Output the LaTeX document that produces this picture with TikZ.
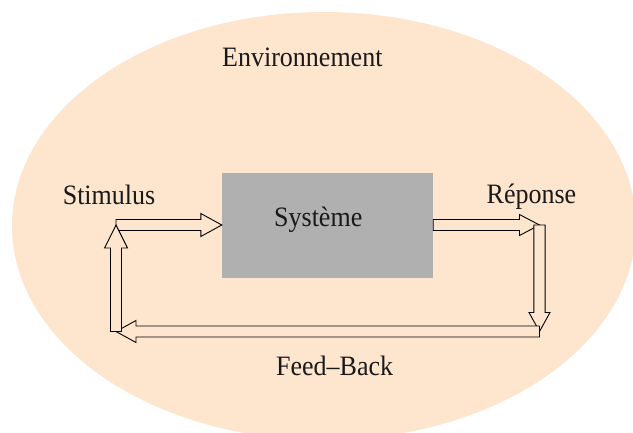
\documentclass[tikz,border=0pt]{standalone}
\usepackage{fontspec}
\setmainfont{Liberation Serif}
\usetikzlibrary{calc}
\definecolor{peach}{RGB}{253,229,206}
\definecolor{sysgray}{RGB}{176,176,176}
\tikzset{
  barrow/.style={draw=black, line width=0.9pt, fill=peach, line join=miter},
  lbl/.style={anchor=base west, inner sep=0pt, text=black!90,
    font=\fontsize{26}{30}\selectfont},
  sysbox/.style={rectangle, fill=sysgray, draw=none, minimum width=211pt, minimum height=105pt, inner sep=0pt}
}
\newcommand\blockarrow[5]{%
  \coordinate (ba-hb) at ($(#2)!#5!(#1)$);
  \draw[barrow] ($(#1)!#3!90:(#2)$) -- ($(ba-hb)!#3!90:(#2)$) -- ($(ba-hb)!#4!90:(#2)$)
    -- (#2) -- ($(ba-hb)!#4!-90:(#2)$) -- ($(ba-hb)!#3!-90:(#2)$) -- ($(#1)!#3!-90:(#2)$) -- cycle;
}
\newcommand\vstretch[1]{\scalebox{1}[1.08]{#1}}
\begin{document}
\begin{tikzpicture}[x=1pt,y=-1pt]
  \useasboundingbox (0,0) rectangle (633,432);
  \clip (0,0) rectangle (633,432);
  \fill[white] (0,0) rectangle (633,432);
  \fill[peach] (324,226) ellipse [x radius=312, y radius=214];
  \node[sysbox] (sys) at (327.5,225) {};
  \node[lbl] (env) at (222,66) {\vstretch{Environnement}};
  \node[lbl] (stim) at (62.6,204) {\vstretch{Stimulus}};
  \node[lbl] (systxt) at (274,226) {\vstretch{Système}};
  \node[lbl] (rep) at (486.5,203) {\vstretch{Réponse}};
  \node[lbl] (fb) at (276,375) {\vstretch{Feed–Back}};
  \coordinate (nw) at (116,225);
  \coordinate (ne) at (539.5,225);
  \coordinate (se) at (539.5,331.5);
  \coordinate (sw) at (116,331.5);
  \blockarrow{nw}{sys.west}{5.5pt}{11.5pt}{21pt}
  \blockarrow{sys.east}{ne}{5.5pt}{10.5pt}{20pt}
  \blockarrow{ne}{se}{5.6pt}{10.5pt}{19pt}
  \blockarrow{se}{sw}{5.5pt}{11pt}{20pt}
  \blockarrow{sw}{nw}{5.5pt}{11.5pt}{23pt}
\end{tikzpicture}
\end{document}
